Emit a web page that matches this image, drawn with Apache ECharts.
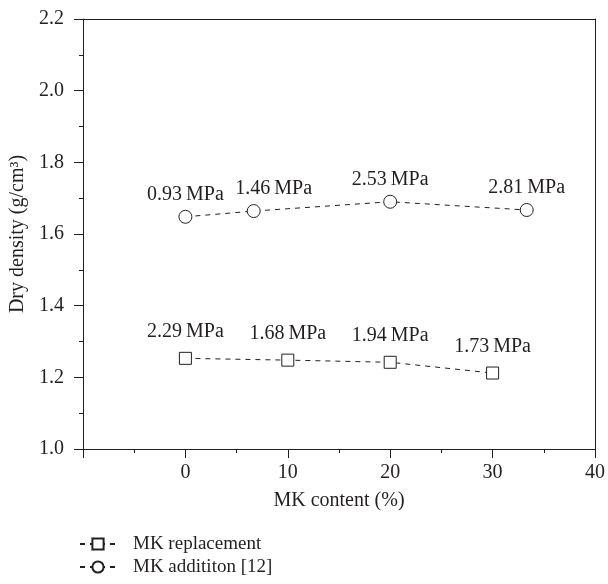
<!DOCTYPE html>
<html>
<head>
<meta charset="utf-8">
<script src="https://cdn.jsdelivr.net/npm/echarts@6/dist/echarts.min.js"></script>
<style>html,body{margin:0;padding:0;background:#fff}#c{width:608px;height:584px}</style>
</head>
<body>
<div id="c"></div>
<script>
// ---- data ----
var replacementX = [0, 10, 20, 30];
var replacementY = [1.253, 1.248, 1.242, 1.212];
var replacementMPa = ['2.29', '1.68', '1.94', '1.73'];

var additionX = [0, 6.67, 20, 33.33];
var additionY = [1.648, 1.664, 1.690, 1.667];
var additionMPa = ['0.93', '1.46', '2.53', '2.81'];

var seriesNames = ['MK replacement', 'MK addititon [12]'];
var xName = 'MK content (%)';
var yName = 'Dry density (g/cm\u00B3)';

// ---- chart ----
var INK = '#231f20';
var FONT = "'Liberation Serif', 'DejaVu Serif', serif";
var X_MIN = -10, X_MAX = 40, X_STEP = 10;
var Y_MIN = 1.0, Y_MAX = 2.2, Y_STEP = 0.2;
var chart = echarts.init(document.getElementById('c'), null, {renderer: 'canvas'});

function pts(xs, ys, labs, offsets) {
  return xs.map(function (x, i) {
    var d = {value: [x, ys[i]], mpa: labs[i]};
    if (offsets && offsets[i]) d.label = {offset: offsets[i]};
    return d;
  });
}

var labelBase = {
  show: true,
  position: 'top',
  color: INK,
  fontFamily: FONT,
  fontSize: 20,
  formatter: function (p) { return p.data.mpa + '\u2009MPa'; }
};

function frameAxis(pos, min, max, step) {
  return {
    type: 'value', position: pos, min: min, max: max, interval: step,
    axisLine: {show: true, onZero: false, lineStyle: {color: INK, width: 1}},
    axisTick: {show: false}, minorTick: {show: false},
    axisLabel: {show: false}, splitLine: {show: false}, minorSplitLine: {show: false}
  };
}

chart.setOption({
  animation: false,
  textStyle: {fontFamily: FONT, color: INK},
  grid: {left: 83, right: 9, top: 19, bottom: 135},
  legend: {
    orient: 'vertical',
    left: 79,
    top: 534,
    height: 52,
    padding: 0,
    itemWidth: 36,
    itemHeight: 14,
    itemGap: 3,
    data: seriesNames,
    textStyle: {fontFamily: FONT, fontSize: 19, color: INK, lineHeight: 20, padding: [0, 0, 0, 12]}
  },
  xAxis: [{
    type: 'value',
    position: 'bottom',
    min: X_MIN, max: X_MAX, interval: X_STEP,
    name: xName,
    nameLocation: 'middle',
    nameGap: 42,
    nameTextStyle: {fontFamily: FONT, fontSize: 20, color: INK},
    axisLine: {show: true, onZero: false, lineStyle: {color: INK, width: 1}},
    axisTick: {show: true, inside: false, length: 9, lineStyle: {color: INK, width: 1}},
    minorTick: {show: true, splitNumber: 2, length: 4, lineStyle: {color: INK}},
    axisLabel: {fontFamily: FONT, fontSize: 20, color: INK, margin: 14,
      formatter: function (v) { return v < 0 ? '' : String(v); }},
    splitLine: {show: false},
    minorSplitLine: {show: false}
  }, frameAxis('top', X_MIN, X_MAX, X_STEP)],
  yAxis: [{
    type: 'value',
    position: 'left',
    min: Y_MIN, max: Y_MAX, interval: Y_STEP,
    name: yName,
    nameLocation: 'middle',
    nameGap: 48,
    nameTextStyle: {fontFamily: FONT, fontSize: 20, color: INK},
    axisLine: {show: true, onZero: false, lineStyle: {color: INK, width: 1}},
    axisTick: {show: true, inside: false, length: 9, lineStyle: {color: INK, width: 1}},
    minorTick: {show: true, splitNumber: 2, length: 4, lineStyle: {color: INK}},
    axisLabel: {fontFamily: FONT, fontSize: 20, color: INK, margin: 19, formatter: function (v) { return v.toFixed(1); }},
    splitLine: {show: false},
    minorSplitLine: {show: false}
  }, frameAxis('right', Y_MIN, Y_MAX, Y_STEP)],
  series: [
    {
      name: seriesNames[0],
      type: 'line',
      xAxisIndex: 0,
      yAxisIndex: 0,
      data: pts(replacementX, replacementY, replacementMPa),
      symbol: 'rect',
      symbolSize: 12,
      color: INK,
      itemStyle: {color: '#fff', borderColor: INK, borderWidth: 1},
      lineStyle: {color: INK, width: 1, type: [5, 5]},
      label: Object.assign({}, labelBase, {distance: 10})
    },
    {
      name: seriesNames[1],
      type: 'line',
      xAxisIndex: 1,
      yAxisIndex: 1,
      data: pts(additionX, additionY, additionMPa, [null, [20, 0], null, null]),
      symbol: 'circle',
      symbolSize: 13,
      color: INK,
      itemStyle: {color: '#fff', borderColor: INK, borderWidth: 1},
      lineStyle: {color: INK, width: 1, type: [5, 5]},
      label: Object.assign({}, labelBase, {distance: 5})
    }
  ]
});
</script>
</body>
</html>
